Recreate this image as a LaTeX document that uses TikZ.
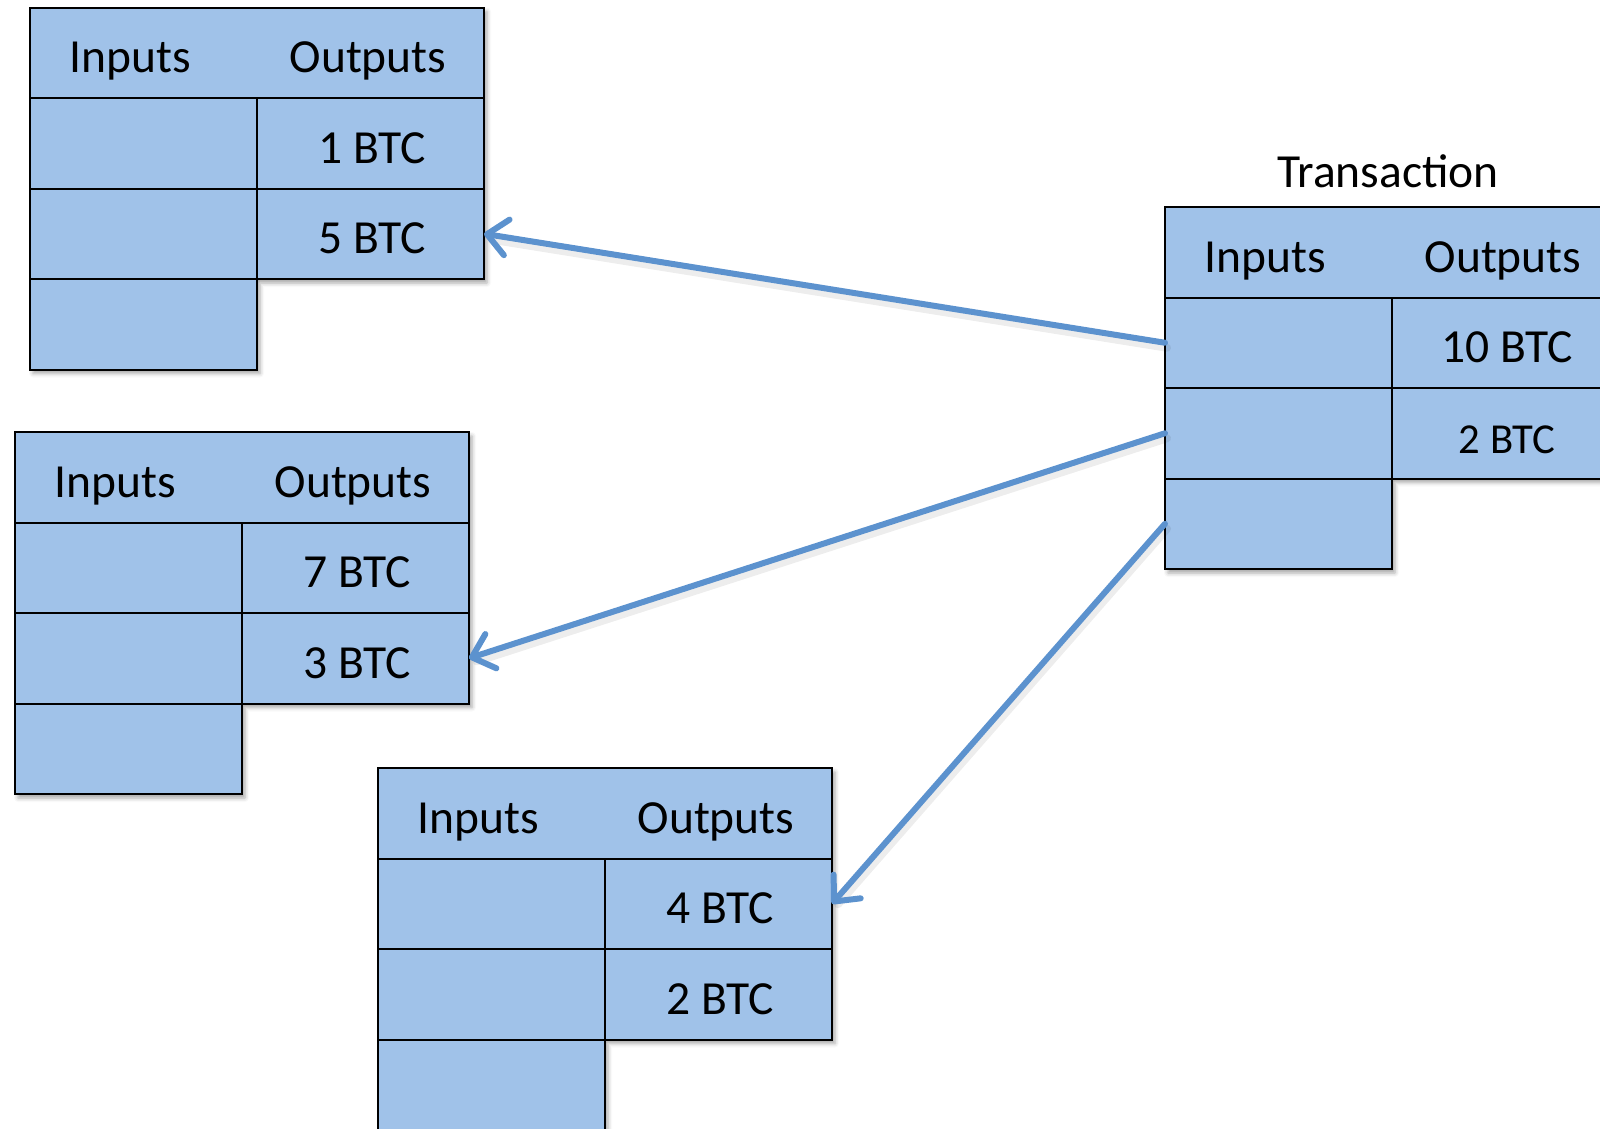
\documentclass[tikz,border=0pt]{standalone}
\usepackage{fontspec}
\setmainfont{Carlito}
\usetikzlibrary{arrows.meta,shadows.blur}

\definecolor{cellfill}{RGB}{160,194,233}
\definecolor{linkblue}{RGB}{92,146,206}

\newcommand\bigtxt{\fontsize{47.5}{52}\selectfont}
\newcommand\smallval{\fontsize{42.7}{47}\selectfont}

\tikzset{
  cell/.style={draw=black, line width=2pt, fill=cellfill, minimum width=#1,
    minimum height=90.5pt, inner sep=0pt, outer sep=0pt, anchor=north west},
  cellshade/.style={fill=cellfill, blur shadow={shadow xshift=3pt, shadow yshift=-4pt,
    shadow blur radius=4pt, shadow opacity=35}},
  celltext/.style={anchor=base, inner sep=0pt, font=\bigtxt},
  link/.style={draw=linkblue, line width=6pt, line cap=round, line join=round,
    -{Straight Barb[length=20pt, width=36pt, line cap=round, line join=round]}},
  linkshade/.style={draw=black, opacity=0.07, line width=8pt, line cap=round},
}

% One transaction table: name, top-left x, top-left y, first output, second output
\newcommand\txtable[5]{%
  \begin{scope}[shift={(#2,#3)}]
    \path[cellshade] (0,0) -- (454,0) -- (454,-271.5) -- (227,-271.5)
      -- (227,-362) -- (0,-362) -- cycle;
    \node[cell=454pt] (#1-head) at (0,0) {};
    \node[cell=227pt] (#1-in1) at (0,-90.5) {};
    \node[cell=227pt] (#1-in2) at (0,-181) {};
    \node[cell=227pt] (#1-in3) at (0,-271.5) {};
    \node[cell=227pt] (#1-out1) at (227,-90.5) {};
    \node[cell=227pt] (#1-out2) at (227,-181) {};
    \node[celltext] (#1-inlab) at (100,-65) {Inputs};
    \node[celltext] (#1-outlab) at (338,-65) {Outputs};
    \node[celltext] (#1-val1) at (342,-155.5) {#4};
    \node[celltext] (#1-val2) at (342,-246) {#5};
  \end{scope}}

\begin{document}
\begin{tikzpicture}[x=1pt, y=1pt]
  \useasboundingbox (0,0) rectangle (1600,-1128);
  \clip (0,0) rectangle (1600,-1128);

  \txtable{a}{30}{-7.5}{1 BTC}{5 BTC}
  \txtable{b}{15}{-432}{7 BTC}{3 BTC}
  \txtable{c}{378}{-768}{4 BTC}{2 BTC}
  \txtable{tx}{1165}{-207}{10 BTC}{\smallval 2 BTC}

  \node[celltext] (tx-title) at (1388,-187) {Transaction};

  % soft shadows under the links
  \draw[linkshade, shorten >=6pt] ([shift={(2,-5)}]tx-in1.west) -- ([shift={(2,-5)}]a-out2.east);
  \draw[linkshade, shorten >=6pt] ([shift={(2,-5)}]tx-in2.west) -- ([shift={(2,-5)}]b-out2.east);
  \draw[linkshade, shorten >=6pt] ([shift={(2,-5)}]tx-in3.west) -- ([shift={(2,-5)}]c-out1.east);

  % links from each input to the output it spends
  \draw[link] (tx-in1.west) -- (a-out2.east);
  \draw[link] (tx-in2.west) -- (b-out2.east);
  \draw[link] (tx-in3.west) -- (c-out1.east);
\end{tikzpicture}
\end{document}
